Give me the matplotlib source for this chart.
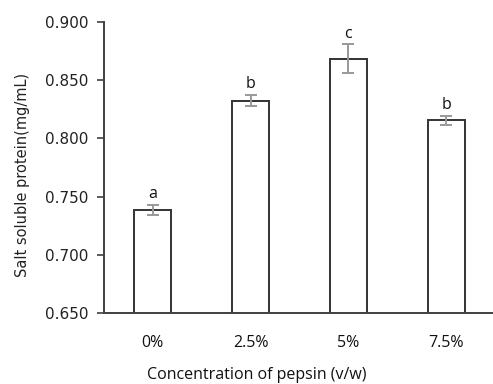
import matplotlib
matplotlib.use("Agg")
import matplotlib.pyplot as plt

categories = ["0%", "2.5%", "5%", "7.5%"]
values = [0.7385, 0.8325, 0.8685, 0.8155]
errors = [0.0045, 0.0045, 0.0122, 0.0040]
letters = ["a", "b", "c", "b"]
yticks = [0.650, 0.700, 0.750, 0.800, 0.850, 0.900]

fig = plt.figure(figsize=(4.93, 3.84), dpi=100)
ax = fig.add_axes([104/493, 1 - 313/384, 391/493, (313-22)/384])

x = range(len(categories))
ax.bar(x, values, width=0.38, color="white", edgecolor="#333333", linewidth=1.4, zorder=2)
ax.errorbar(x, values, yerr=errors, fmt="none", ecolor="#999999", elinewidth=1.4,
            capsize=4.5, capthick=1.4, zorder=3)
for xi, v, e, l in zip(x, values, errors, letters):
    ax.text(xi, v + e + 0.0025, l, ha="center", va="bottom", fontsize=11.5,
            family="Open Sans", color="#111111")

ax.set_xlim(-0.5, 3.5)
ax.set_ylim(0.650, 0.900)
ax.set_yticks(yticks)
ax.set_yticklabels([f"{t:.3f}" for t in yticks], fontsize=11, family="DejaVu Sans", color="#222222")
ax.set_xticks(list(x))
ax.set_xticklabels(categories, fontsize=11.5, family="Open Sans", color="#111111")
ax.tick_params(axis="x", length=0, pad=16)
ax.tick_params(axis="y", length=5, width=1.2, color="#404040", pad=6)
for s in ["top", "right"]:
    ax.spines[s].set_visible(False)
for s in ["left", "bottom"]:
    ax.spines[s].set_color("#404040")
    ax.spines[s].set_linewidth(1.4)

ax.set_xlabel("Concentration of pepsin (v/w)", fontsize=11.5, family="Open Sans", color="#111111")
ax.xaxis.set_label_coords(0.391, -0.185)
ax.set_ylabel("Salt soluble protein(mg/mL)", fontsize=10.5, family="DejaVu Sans", color="#222222")
ax.yaxis.set_label_coords(-0.189, 0.476)

fig.savefig("out.png", dpi=100)
